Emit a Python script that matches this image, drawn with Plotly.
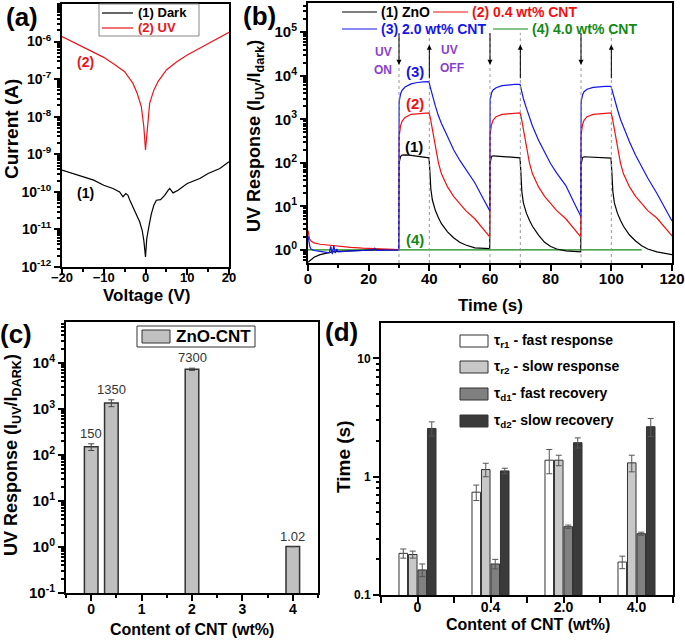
import math
import plotly.graph_objects as go

FONT = "Liberation Sans"
W, H = 685, 643

# ---- (a) I-V curves ----
iv_volt_dark = [-20, -17.4, -15, -12.4, -10, -7.8, -6.2, -5.4, -4.7, -4.2, -3.8, -3, -2, -1.4, -0.8, -0.4, 0,
                0.3, 0.8, 1.4, 2, 2.6, 3.6, 4.6, 5.4, 5.8, 6.6, 7.8, 10, 13, 15, 17.8, 20]
iv_curr_dark = [3.8e-10, 3.1e-10, 2.5e-10, 2.05e-10, 1.5e-10, 1.23e-10, 1.0e-10, 7.4e-11, 9.0e-11, 8.1e-11,
                6.2e-11, 4.0e-11, 2.4e-11, 1.6e-11, 9.5e-12, 5.1e-12, 1.85e-12,
                5.7e-12, 1.17e-11, 2.6e-11, 4.4e-11, 6.0e-11, 6.2e-11, 8.1e-11, 1.1e-10, 1.23e-10, 9.4e-11,
                1.1e-10, 1.67e-10, 2.27e-10, 3.08e-10, 4.2e-10, 6.3e-10]
iv_volt_uv = [-20, -17.5, -15, -12.5, -10, -7.5, -5, -3, -2, -1, -0.4, 0, 0.5, 1, 2, 3, 5, 7.5, 10, 12.5, 15,
              17.5, 20]
iv_curr_uv = [1.36e-6, 9.8e-7, 7.1e-7, 5.2e-7, 3.8e-7, 2.5e-7, 1.58e-7, 7.7e-8, 4.2e-8, 1.85e-8, 5.4e-9, 1.3e-9,
              6.6e-9, 2.3e-8, 5.1e-8, 8.6e-8, 1.75e-7, 2.9e-7, 4.4e-7, 6.2e-7, 9.0e-7, 1.28e-6, 1.77e-6]

# ---- (b) transient UV response ----
zno_t = [0, 1, 2, 4, 6, 8, 10, 14, 18, 22, 26, 29.9,
         30.05, 30.5, 31, 32, 34, 36, 38, 39.5, 39.9, 40.2, 40.5, 41, 42, 43, 44, 46, 48, 50, 52, 55, 58, 59.9,
         60.05, 60.5, 61, 62, 64, 66, 68, 69.9, 70.2, 70.5, 71, 72, 73, 74, 76, 78, 80, 82, 85, 88, 89.9,
         90.05, 90.5, 91, 92, 94, 96, 98, 99.9, 100.2, 100.5, 101, 102, 103, 104, 106, 108, 110, 112, 115, 118, 120]
zno_r = [0.52, 0.6, 0.68, 0.78, 0.85, 0.9, 0.93, 0.96, 0.98, 1.0, 1.0, 1.0,
         100, 140, 150, 152, 148, 142, 138, 135, 130, 60, 25, 14, 8, 5.5, 4.0, 2.6, 1.9, 1.5, 1.3, 1.12, 1.07, 1.07,
         100, 140, 145, 143, 138, 135, 133, 130, 55, 22, 12, 7, 4.8, 3.5, 2.2, 1.5, 1.2, 1.05, 0.95, 0.9, 0.9,
         95, 132, 138, 137, 135, 133, 131, 128, 55, 22, 12, 7, 4.8, 3.5, 2.2, 1.6, 1.25, 1.05, 0.9, 0.82, 0.78]

cnt04_t = [0, 0.5, 1, 2, 4, 6, 10, 14, 18, 22, 26, 29.9,
           30.05, 30.5, 31, 32, 34, 36, 38, 39.9, 40.3, 41, 42, 43, 44, 46, 48, 50, 52, 55, 58, 59.9,
           60.05, 60.5, 61, 62, 64, 66, 68, 69.9, 70.3, 71, 72, 73, 74, 76, 78, 80, 82, 85, 88, 89.9,
           90.05, 90.5, 91, 92, 94, 96, 98, 99.9, 100.3, 101, 102, 103, 104, 106, 108, 110, 112, 115, 118, 120]
cnt04_r = [2.8, 1.8, 1.6, 1.45, 1.35, 1.3, 1.22, 1.15, 1.1, 1.07, 1.04, 1.02,
           400, 700, 900, 1100, 1300, 1350, 1380, 1400, 1100, 600, 230, 100, 56, 28, 17, 11.5, 8, 5.2, 3.0, 2.0,
           450, 750, 950, 1150, 1300, 1350, 1380, 1400, 1100, 600, 230, 100, 56, 28, 17, 11.5, 8, 5.2, 3.0, 2.0,
           450, 750, 950, 1150, 1300, 1350, 1380, 1400, 1100, 600, 230, 100, 56, 28, 17, 11.5, 8, 5.4, 3.1, 2.1]

cnt20_t = [0, 0.3, 0.6, 1, 2, 4, 6, 7, 7.5, 8, 8.5, 9, 9.5, 10, 12, 14, 18, 21.5, 22, 22.5, 26, 29.9,
           30.05, 30.5, 31, 32, 34, 36, 38, 39.9, 40.3, 41, 42, 43, 44, 46, 48, 50, 52, 55, 58, 59.9,
           60.05, 60.5, 61, 62, 64, 66, 68, 69.9, 70.3, 71, 72, 73, 74, 76, 78, 80, 82, 85, 88, 89.9,
           90.05, 90.5, 91, 92, 94, 96, 98, 99.9, 100.3, 101, 102, 103, 104, 106, 108, 110, 112, 115, 118, 120]
cnt20_r = [2.1, 1.5, 1.2, 1.05, 0.97, 0.93, 0.9, 0.86, 1.2, 0.8, 1.25, 0.85, 1.05, 0.9, 0.92, 0.95, 0.97, 1.0,
           1.1, 0.98, 0.99, 1.0,
           2500, 3800, 4600, 5500, 6500, 7000, 7200, 7300, 5500, 3500, 2000, 1200, 800, 400, 200, 115, 70, 35, 14, 8,
           2800, 4000, 4700, 5300, 5900, 6200, 6300, 6300, 4800, 3000, 1800, 1100, 700, 330, 170, 95, 58, 30, 11, 6,
           2500, 3600, 4300, 4900, 5400, 5600, 5700, 5700, 4400, 2800, 1700, 1000, 650, 300, 150, 80, 45, 20, 8, 4.6]

cnt40_t = [0, 29.9, 30.05, 39.9, 40.3, 59.9, 60.05, 69.9, 70.3, 89.9, 90.05, 99.9, 100.3, 110]
cnt40_r = [1.0, 1.0, 1.04, 1.04, 1.01, 1.0, 1.04, 1.04, 1.01, 1.0, 1.03, 1.03, 1.01, 1.0]

uv_on = [30, 60, 90]
uv_off = [40, 70, 100]

# ---- (c) UV response vs CNT content ----
cnt_wt = [0, 0.4, 2, 4]
uv_response = [150, 1350, 7300, 1.02]
uv_response_err = [25, 230, 400, 0]
uv_response_lbl = ["150", "1350", "7300", "1.02"]

# ---- (d) time constants ----
cnt_labels = ["0", "0.4", "2.0", "4.0"]
tau_names = ["τ<sub>r1</sub> - fast response", "τ<sub>r2</sub> - slow response",
             "τ<sub>d1</sub>- fast recovery", "τ<sub>d2</sub>- slow recovery"]
tau_r1 = [0.225, 0.74, 1.38, 0.19]
tau_r2 = [0.22, 1.15, 1.38, 1.31]
tau_d1 = [0.163, 0.183, 0.378, 0.33]
tau_d2 = [2.56, 1.12, 1.94, 2.65]
tau_r1_err = [0.02, 0.11, 0.32, 0.023]
tau_r2_err = [0.015, 0.15, 0.14, 0.21]
tau_d1_err = [0.02, 0.017, 0.012, 0.01]
tau_d2_err = [0.35, 0.06, 0.19, 0.46]
tau_colors = ["#ffffff", "#c8c8c8", "#808080", "#3a3a3a"]


def px(x):
    return x / W


def py(y):
    return 1 - y / H


def bold(size, color="black"):
    return dict(family=FONT, size=size, color=color, weight="bold")


def axis(domain, anchor, **kw):
    d = dict(domain=domain, anchor=anchor, showline=True, linewidth=2, linecolor="black", mirror=True,
             ticks="outside", ticklen=6, tickwidth=2, tickcolor="black", showgrid=False, zeroline=False,
             automargin=False, tickfont=bold(14))
    d.update(kw)
    return d


def lin_minor(step, length=3):
    return dict(ticks="outside", ticklen=length, tickwidth=1.5, tickcolor="black", dtick=step, showgrid=False)


def log_minor():
    return dict(ticks="outside", ticklen=3, tickwidth=1.5, tickcolor="black", showgrid=False, dtick="D1")


def pow_text(exps):
    return ["10<sup>%d</sup>" % e for e in exps]


def label(x, y, text, font, anchor="center", angle=0):
    # text placed at a pixel position of the page
    return dict(x=px(x), y=py(y), xref="paper", yref="paper", xanchor=anchor, yanchor="middle",
                text=text, textangle=angle, showarrow=False, font=font)


fig = go.Figure()

# (a)
fig.add_trace(go.Scatter(x=iv_volt_dark, y=iv_curr_dark, mode="lines", line=dict(color="black", width=1.2),
                         xaxis="x", yaxis="y"))
fig.add_trace(go.Scatter(x=iv_volt_uv, y=iv_curr_uv, mode="lines", line=dict(color="#e8161c", width=1.2),
                         xaxis="x", yaxis="y"))

# (b)
for t, r, c in [(cnt40_t, cnt40_r, "#138a13"), (zno_t, zno_r, "black"),
                (cnt04_t, cnt04_r, "#ee1111"), (cnt20_t, cnt20_r, "#1515ee")]:
    fig.add_trace(go.Scatter(x=t, y=r, mode="lines", line=dict(color=c, width=1.2), xaxis="x2", yaxis="y2"))

# (c)
fig.add_trace(go.Bar(x=cnt_wt, y=uv_response, width=0.27,
                     marker=dict(color="#c0c0c0", line=dict(color="#333333", width=1.5)),
                     error_y=dict(type="data", array=uv_response_err, color="#444444", thickness=1, width=3),
                     xaxis="x3", yaxis="y3"))

# (d)
pos = list(range(len(cnt_labels)))
for vals, errs, col in zip([tau_r1, tau_r2, tau_d1, tau_d2], [tau_r1_err, tau_r2_err, tau_d1_err, tau_d2_err],
                           tau_colors):
    fig.add_trace(go.Bar(x=pos, y=vals, marker=dict(color=col, line=dict(color="#333333", width=1)),
                         error_y=dict(type="data", array=errs, color="#555555", thickness=1, width=3),
                         xaxis="x4", yaxis="y4"))

shapes = []
ann = []

# vertical dotted guides and arrows in (b)
for t in uv_on + uv_off:
    shapes.append(dict(type="line", xref="x2", yref="y2 domain", x0=t, x1=t, y0=0, y1=0.885,
                       line=dict(color="#999999", width=1, dash="dot")))
for t in uv_on:
    ann.append(dict(x=t, y=4.25, xref="x2", yref="y2", ax=0, ay=-33, text="", showarrow=True,
                    arrowhead=2, arrowsize=1, arrowwidth=1, arrowcolor="black"))
for t in uv_off:
    ann.append(dict(x=t, y=4.71, xref="x2", yref="y2", ax=0, ay=35, text="", showarrow=True,
                    arrowhead=2, arrowsize=1, arrowwidth=1, arrowcolor="black"))

purple = "#8a3fd0"
for txt, x, y in [("UV", 24.8, 4.55), ("ON", 24.8, 4.13), ("UV", 46.5, 4.58), ("OFF", 47.5, 4.17)]:
    ann.append(dict(x=x, y=y, xref="x2", yref="y2", text=txt, showarrow=False, font=bold(12, purple)))
for txt, x, y, c in [("(3)", 35.2, 4.09, "#1515ee"), ("(2)", 35.2, 3.36, "#ee1111"),
                     ("(1)", 34.9, 2.37, "black"), ("(4)", 35.2, 0.25, "#138a13")]:
    ann.append(dict(x=x, y=y, xref="x2", yref="y2", text=txt, showarrow=False, font=bold(15, c)))

# legend (a)
shapes.append(dict(type="rect", xref="paper", yref="paper", x0=px(99), x1=px(199), y0=py(36), y1=py(4),
                   line=dict(color="#888888", width=1), fillcolor="white"))
for yy, c, txt in [(13, "black", "(1) Dark"), (28, "#e8161c", "(2) UV")]:
    shapes.append(dict(type="line", xref="paper", yref="paper", x0=px(102), x1=px(133), y0=py(yy), y1=py(yy),
                       line=dict(color=c, width=1.2)))
    ann.append(label(136, yy, txt, bold(13, c), anchor="left"))
ann.append(label(85, 62, "(2)", bold(14, "#e8161c")))
ann.append(label(85, 193, "(1)", bold(14)))

# legend (b)
for yy, x0, c, txt in [(12, 342, "black", "(1) ZnO"), (12, 433, "#ee1111", "(2) 0.4 wt% CNT"),
                       (29, 342, "#1515ee", "(3) 2.0 wt% CNT"), (29, 493, "#138a13", "(4) 4.0 wt% CNT")]:
    shapes.append(dict(type="line", xref="paper", yref="paper", x0=px(x0), x1=px(x0 + 35), y0=py(yy),
                       y1=py(yy), line=dict(color=c, width=1.2)))
    ann.append(label(x0 + 37, yy, txt, bold(14, c), anchor="left"))

# legend (c)
shapes.append(dict(type="rect", xref="paper", yref="paper", x0=px(137), x1=px(255), y0=py(347), y1=py(326),
                   line=dict(color="#333333", width=1), fillcolor="white"))
shapes.append(dict(type="rect", xref="paper", yref="paper", x0=px(142), x1=px(170), y0=py(343), y1=py(330),
                   line=dict(color="#333333", width=1), fillcolor="#c0c0c0"))
ann.append(label(174, 336.5, "ZnO-CNT", bold(17), anchor="left"))
for x, v, e, lbl in zip(cnt_wt, uv_response, uv_response_err, uv_response_lbl):
    ann.append(dict(x=x, y=math.log10(v + e), xref="x3", yref="y3", xanchor="center", yanchor="bottom",
                    yshift=1, text=lbl, showarrow=False, font=dict(family=FONT, size=13, color="#333333")))

# legend (d)
for yy, c, txt in zip([341, 367, 394, 421], tau_colors, tau_names):
    shapes.append(dict(type="rect", xref="paper", yref="paper", x0=px(460), x1=px(488), y0=py(yy + 6),
                       y1=py(yy - 6), line=dict(color="#333333", width=1), fillcolor=c))
    ann.append(label(492, yy, txt, bold(14), anchor="left"))

# panel letters
for txt, x, y in [("(a)", 22, 17), ("(b)", 259, 16), ("(c)", 16, 334), ("(d)", 341, 332)]:
    ann.append(label(x, y, txt, bold(26)))

# axis titles
for txt, x, y, ang, size in [
        ("Current (A)", 11, 129, -90, 19),
        ("Voltage (V)", 147, 295, 0, 17),
        ("UV Response (I<sub>UV</sub>/I<sub>dark</sub>)", 255, 136, -90, 18),
        ("Time (s)", 490, 305, 0, 17),
        ("UV Response (I<sub>UV</sub>/I<sub>DARK</sub>)", 12, 455, -90, 18),
        ("Content of CNT (wt%)", 192, 629, 0, 16),
        ("Time (s)", 343, 457, -90, 19),
        ("Content of CNT (wt%)", 528, 624, 0, 16)]:
    ann.append(label(x, y, txt, bold(size), angle=ang))

fig.update_layout(
    width=W, height=H, margin=dict(l=0, r=0, t=0, b=0),
    paper_bgcolor="white", plot_bgcolor="white", showlegend=False,
    barmode="group", bargap=0.48, bargroupgap=0.1,
    xaxis=axis([px(62), px(229)], "y", range=[-20, 20], tickvals=[-20, -10, 0, 10, 20], tickfont=bold(13),
               ticklabelstandoff=-9, minor=lin_minor(5)),
    yaxis=axis([py(267), py(4)], "x", type="log", range=[-12, -5],
               tickvals=[10 ** e for e in range(-12, -5)], ticktext=pow_text(range(-12, -5)), minor=log_minor()),
    xaxis2=axis([px(308), px(672)], "y2", range=[0, 120], tickvals=list(range(0, 121, 20)), tickfont=bold(15),
                ticklabelstandoff=-5, minor=lin_minor(10)),
    yaxis2=axis([py(263), py(3)], "x2", type="log", range=[-0.3, 5.67],
                tickvals=[10 ** e for e in range(0, 6)], ticktext=pow_text(range(0, 6)), tickfont=bold(15),
                minor=log_minor()),
    xaxis3=axis([px(66), px(318)], "y3", range=[-0.5, 4.5], tickvals=[0, 1, 2, 3, 4],
                ticklabelstandoff=-4, minor=lin_minor(0.5)),
    yaxis3=axis([py(593), py(322)], "x3", type="log", range=[-1, 4.89],
                tickvals=[10 ** e for e in range(-1, 5)], ticktext=pow_text(range(-1, 5)), tickfont=bold(15),
                minor=log_minor()),
    xaxis4=axis([px(381), px(673)], "y4", range=[-0.5, 3.5], tickvals=pos, ticktext=cnt_labels,
                ticklabelstandoff=-8, minor=lin_minor(0.5, 6)),
    yaxis4=axis([py(595), py(323)], "x4", type="log", range=[-1, 1.3], tickvals=[0.1, 1, 10],
                ticktext=["0.1", "1", "10"], tickfont=bold(12), minor=log_minor()),
    shapes=shapes, annotations=ann,
)

# the page body has a default 8px margin; drop it so the figure sits at the window origin
fig.write_html("out.html", config={"displayModeBar": False},
               post_script="document.body.style.margin = '0px';")
